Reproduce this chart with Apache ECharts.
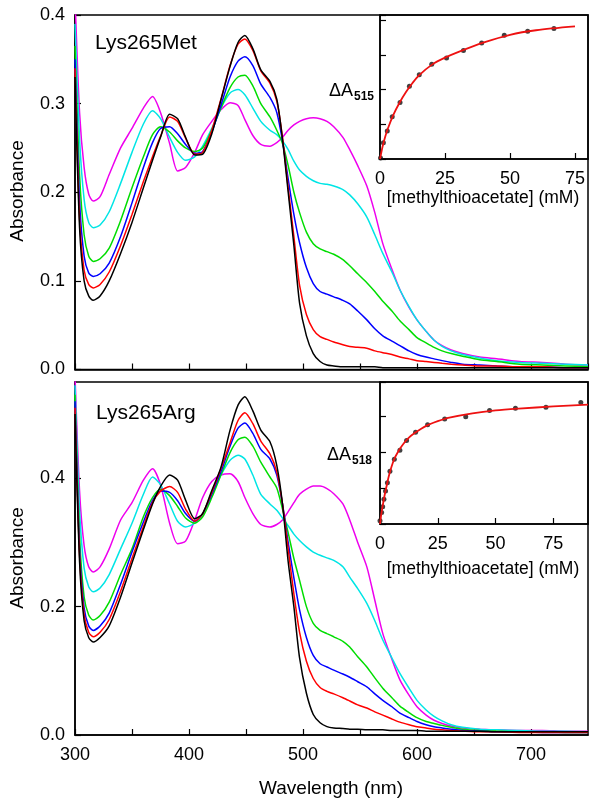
<!DOCTYPE html>
<html><head><meta charset="utf-8">
<script src="https://cdn.jsdelivr.net/npm/echarts@6/dist/echarts.min.js"></script>
<style>html,body{margin:0;padding:0;background:#fff}#c{width:603px;height:806px}</style>
</head><body><div id="c"></div>
<script>
// Wavelength grid (nm)
const W = [300,304,308,312,316, 322,330,340,350,360, 368,375,383,390,397, 405,412,420,428,436,
  443,449,456,463,471, 477,482,487,492,497, 503,509,515,521,527, 535,541,548,556,563,
  570,578,585,593,600, 608,615,622,630,640, 655,670,690,710,730, 750];

// Top panel: Lys265Met
const K1 = [0.33,0.16,0.1,0.083,0.078, 0.083,0.100,0.131,0.166,0.205, 0.236,0.262,0.288,0.283,0.262,
  0.242,0.243,0.266,0.304,0.342, 0.369,0.377,0.362,0.338,0.325, 0.305,0.26,0.20,0.14,0.075,
  0.038,0.018,0.009,0.005,0.004, 0.003,0.003,0.003,0.003,0.003, 0.002,0.002,0.002,0.002,0.002,
  0.002,0.002,0.002,0.002,0.002, 0.002,0.002,0.002,0.002,0.002, 0.002];
const R1 = [0.34,0.17,0.112,0.096,0.092, 0.096,0.11,0.14,0.175,0.212, 0.24,0.263,0.285,0.28,0.261,
  0.243,0.245,0.27,0.305,0.343, 0.367,0.373,0.36,0.337,0.323, 0.303,0.262,0.205,0.15,0.095,
  0.062,0.045,0.037,0.034,0.031, 0.028,0.026,0.025,0.024,0.021, 0.019,0.017,0.014,0.012,0.01,
  0.009,0.008,0.007,0.006,0.005, 0.004,0.004,0.003,0.003,0.002, 0.002];
const B1 = [0.35,0.19,0.128,0.109,0.105, 0.108,0.12,0.15,0.188,0.228, 0.256,0.272,0.274,0.266,0.254,
  0.244,0.246,0.268,0.298,0.33, 0.348,0.353,0.343,0.322,0.307, 0.29,0.258,0.215,0.175,0.143,
  0.115,0.097,0.088,0.085,0.082, 0.078,0.074,0.066,0.056,0.046, 0.038,0.032,0.027,0.021,0.017,
  0.014,0.012,0.01,0.008,0.006, 0.005,0.004,0.003,0.003,0.002, 0.002];
const G1 = [0.365,0.22,0.152,0.128,0.122, 0.125,0.137,0.168,0.205,0.24, 0.265,0.274,0.268,0.258,0.25,
  0.246,0.25,0.27,0.295,0.318, 0.33,0.332,0.32,0.3,0.285, 0.27,0.255,0.23,0.2,0.177,
  0.155,0.142,0.136,0.133,0.13, 0.124,0.117,0.108,0.098,0.088, 0.077,0.066,0.055,0.045,0.036,
  0.03,0.025,0.021,0.018,0.015, 0.011,0.009,0.006,0.005,0.004, 0.003];
const C1 = [0.39,0.26,0.192,0.166,0.16, 0.163,0.178,0.21,0.245,0.277, 0.292,0.283,0.262,0.245,0.236,
  0.24,0.252,0.272,0.295,0.312, 0.316,0.31,0.295,0.28,0.27, 0.265,0.258,0.248,0.235,0.225,
  0.218,0.213,0.21,0.209,0.207, 0.203,0.197,0.187,0.172,0.152, 0.131,0.11,0.09,0.071,0.056,
  0.043,0.033,0.026,0.021,0.017, 0.013,0.01,0.008,0.007,0.006, 0.005];
const M1 = [0.42,0.29,0.228,0.198,0.19, 0.195,0.22,0.25,0.272,0.295, 0.308,0.29,0.255,0.224,0.228,
  0.245,0.265,0.28,0.293,0.301, 0.298,0.282,0.264,0.254,0.252, 0.256,0.262,0.27,0.276,0.28,
  0.283,0.284,0.283,0.28,0.274, 0.262,0.248,0.23,0.207,0.177, 0.142,0.113,0.09,0.07,0.056,
  0.043,0.033,0.027,0.022,0.018, 0.014,0.012,0.009,0.008,0.006, 0.005];

// Bottom panel: Lys265Arg
const K2 = [0.50,0.27,0.178,0.152,0.145, 0.152,0.17,0.215,0.268,0.32, 0.36,0.387,0.405,0.397,0.366,
  0.337,0.345,0.381,0.417,0.475, 0.514,0.527,0.505,0.475,0.457, 0.42,0.36,0.27,0.2,0.12,
  0.065,0.032,0.019,0.013,0.011, 0.01,0.009,0.009,0.008,0.008, 0.008,0.007,0.007,0.007,0.007,
  0.006,0.006,0.006,0.006,0.006, 0.006,0.005,0.005,0.005,0.005, 0.005];
const R2 = [0.51,0.28,0.188,0.16,0.153, 0.16,0.18,0.224,0.275,0.325, 0.362,0.38,0.387,0.378,0.352,
  0.333,0.345,0.378,0.415,0.455, 0.49,0.502,0.485,0.458,0.438, 0.41,0.36,0.29,0.22,0.16,
  0.115,0.088,0.074,0.068,0.064, 0.058,0.053,0.047,0.042,0.036, 0.031,0.025,0.02,0.016,0.013,
  0.011,0.009,0.008,0.007,0.006, 0.005,0.005,0.004,0.004,0.004, 0.004];
const B2 = [0.52,0.29,0.198,0.17,0.163, 0.17,0.19,0.235,0.285,0.332, 0.365,0.38,0.378,0.365,0.345,
  0.333,0.345,0.375,0.41,0.45, 0.478,0.486,0.47,0.445,0.43, 0.405,0.36,0.3,0.245,0.195,
  0.152,0.124,0.111,0.106,0.101, 0.095,0.09,0.083,0.075,0.064, 0.054,0.044,0.034,0.027,0.021,
  0.016,0.013,0.011,0.009,0.007, 0.006,0.005,0.005,0.004,0.004, 0.004];
const G2 = [0.53,0.31,0.215,0.187,0.179, 0.186,0.207,0.25,0.29,0.34, 0.37,0.383,0.373,0.356,0.338,
  0.33,0.34,0.37,0.405,0.44, 0.46,0.464,0.45,0.425,0.402, 0.385,0.352,0.315,0.275,0.241,
  0.2,0.174,0.163,0.158,0.153, 0.146,0.137,0.122,0.106,0.089, 0.073,0.058,0.045,0.035,0.027,
  0.021,0.018,0.015,0.012,0.009, 0.007,0.006,0.005,0.005,0.004, 0.004];
const C2 = [0.545,0.35,0.26,0.231,0.223, 0.229,0.25,0.29,0.33,0.375, 0.402,0.39,0.36,0.333,0.324,
  0.33,0.345,0.375,0.405,0.428, 0.436,0.43,0.405,0.375,0.36, 0.35,0.338,0.326,0.313,0.303,
  0.293,0.285,0.28,0.276,0.272, 0.262,0.246,0.228,0.205,0.178, 0.148,0.12,0.096,0.073,0.054,
  0.039,0.029,0.022,0.016,0.012, 0.009,0.008,0.007,0.006,0.006, 0.005];
const M2 = [0.56,0.38,0.295,0.262,0.254, 0.262,0.29,0.335,0.362,0.397, 0.415,0.39,0.33,0.298,0.302,
  0.335,0.37,0.395,0.405,0.407, 0.395,0.37,0.345,0.328,0.324, 0.328,0.335,0.348,0.362,0.375,
  0.383,0.388,0.388,0.384,0.376, 0.36,0.335,0.3,0.262,0.21, 0.158,0.118,0.086,0.062,0.044,
  0.031,0.023,0.018,0.014,0.011, 0.009,0.008,0.007,0.007,0.006, 0.006];

// Inset (top): dA515 vs [methylthioacetate]
const inTopX = [0.2,1.3,2.8,4.7,7.7,11.3,15.1,19.9,25.6,32.1,39.1,47.8,56.8,66.9];
const inTopY = [0.03,0.47,0.81,1.22,1.63,2.10,2.43,2.73,2.91,3.13,3.34,3.57,3.68,3.76];
const fitTopX = [0,1,2,3,5,7.5,10,12.5,15,20,25,30,40,50,60,75];
const fitTopY = [0,0.36,0.64,0.87,1.25,1.62,1.93,2.19,2.41,2.72,2.92,3.08,3.36,3.58,3.71,3.82];
// Inset (bottom): dA518
const inBotX = [0,0.7,1.15,1.7,2.4,3.2,4.3,6.2,8.6,11.5,15.4,20.6,28.0,37.1,47.4,58.6,71.8,86.9];
const inBotY = [0.09,0.32,0.48,0.69,0.92,1.15,1.47,1.80,2.05,2.32,2.55,2.76,2.92,2.98,3.16,3.22,3.25,3.38];
const fitBotX = [0,0.5,1,2,3,4,6,8,10,12.5,15,20,25,30,40,50,60,75,90];
const fitBotY = [0,0.25,0.45,0.8,1.1,1.38,1.78,2.03,2.22,2.4,2.53,2.73,2.86,2.96,3.08,3.16,3.21,3.27,3.32];

const FONT = '"Liberation Sans", Arial, Helvetica, sans-serif';
const colors = {K:'#000000', R:'#ff0000', B:'#0000ff', G:'#00dd00', C:'#00e5e5', M:'#ee00ee'};

function pairs(x, y){ return x.map((v,i)=>[v, y[i]]); }
function spec(idx, vals, col){
  return {type:'line', xAxisIndex:idx, yAxisIndex:idx, data:pairs(W, vals), showSymbol:false, symbol:'none',
    smooth:0.25, clip:true, lineStyle:{color:col, width:1.5}, animation:false, silent:true};
}
const axLine = {show:true, onZero:false, lineStyle:{color:'#000', width:1.5}};
const axTick = {show:true, inside:true, length:6, lineStyle:{color:'#000', width:1.2}};
const lbl = {color:'#000', fontSize:18, fontFamily:FONT};

const chart = echarts.init(document.getElementById('c'), null, {renderer:'canvas'});
chart.setOption({
  animation:false,
  backgroundColor:'#fff',
  grid:[
    {left:75, top:15, width:513, height:354.5, show:true, borderColor:'#000', borderWidth:1.5, backgroundColor:'transparent'},
    {left:75, top:382, width:513, height:353, show:true, borderColor:'#000', borderWidth:1.5, backgroundColor:'transparent'},
    {left:380, top:15, width:208, height:144, show:true, borderColor:'#000', borderWidth:1.5, backgroundColor:'transparent'},
    {left:380, top:382, width:208, height:142, show:true, borderColor:'#000', borderWidth:1.5, backgroundColor:'transparent'}
  ],
  xAxis:[
    {type:'value', gridIndex:0, min:300, max:750, interval:50, axisLine:axLine, axisTick:axTick, splitLine:{show:false}, axisLabel:{show:false}},
    {type:'value', gridIndex:1, min:300, max:750, interval:50, axisLine:axLine, axisTick:axTick, splitLine:{show:false},
      axisLabel:Object.assign({margin:11, showMaxLabel:false, formatter:v=> (v%100===0? String(v):'')}, lbl)},
    {type:'value', gridIndex:2, min:0, max:80, interval:25, axisLine:axLine, axisTick:axTick, splitLine:{show:false},
      axisLabel:Object.assign({margin:11, showMaxLabel:false}, lbl)},
    {type:'value', gridIndex:3, min:0, max:90, interval:25, axisLine:axLine, axisTick:axTick, splitLine:{show:false},
      axisLabel:Object.assign({margin:11, showMaxLabel:false}, lbl)}
  ],
  yAxis:[
    {type:'value', gridIndex:0, min:0, max:0.4, interval:0.1, axisLine:axLine, axisTick:axTick, splitLine:{show:false},
      axisLabel:Object.assign({margin:10, formatter:v=>v.toFixed(1)}, lbl)},
    {type:'value', gridIndex:1, min:0, max:0.55, interval:0.2, axisLine:axLine, axisTick:axTick, splitLine:{show:false},
      axisLabel:Object.assign({margin:10, showMaxLabel:false, formatter:v=>v.toFixed(1)}, lbl)},
    {type:'value', gridIndex:2, min:0, max:4.15, interval:1, axisLine:axLine, axisTick:axTick, splitLine:{show:false}, axisLabel:{show:false}},
    {type:'value', gridIndex:3, min:0, max:3.95, interval:1, axisLine:axLine, axisTick:axTick, splitLine:{show:false}, axisLabel:{show:false}}
  ],
  series:[
    spec(0,M1,colors.M), spec(0,C1,colors.C), spec(0,G1,colors.G), spec(0,B1,colors.B), spec(0,R1,colors.R), spec(0,K1,colors.K),
    spec(1,M2,colors.M), spec(1,C2,colors.C), spec(1,G2,colors.G), spec(1,B2,colors.B), spec(1,R2,colors.R), spec(1,K2,colors.K),
    {type:'line', xAxisIndex:2, yAxisIndex:2, data:pairs(fitTopX, fitTopY), showSymbol:false, symbol:'none', smooth:0.3,
      lineStyle:{color:'#ee1111', width:1.8}, silent:true},
    {type:'scatter', xAxisIndex:2, yAxisIndex:2, data:pairs(inTopX, inTopY), symbolSize:5, itemStyle:{color:'#111'}, silent:true},
    {type:'line', xAxisIndex:3, yAxisIndex:3, data:pairs(fitBotX, fitBotY), showSymbol:false, symbol:'none', smooth:0.3,
      lineStyle:{color:'#ee1111', width:1.8}, silent:true},
    {type:'scatter', xAxisIndex:3, yAxisIndex:3, data:pairs(inBotX, inBotY), symbolSize:5, itemStyle:{color:'#111'}, silent:true}
  ],
  graphic:[
    {type:'text', x:18, y:191, rotation:Math.PI/2, style:{text:'Absorbance', fontSize:19, fontFamily:FONT, fill:'#000', align:'center', verticalAlign:'middle'}},
    {type:'text', x:18, y:558, rotation:Math.PI/2, style:{text:'Absorbance', fontSize:19, fontFamily:FONT, fill:'#000', align:'center', verticalAlign:'middle'}},
    {type:'text', x:331, y:789, style:{text:'Wavelength (nm)', fontSize:19, fontFamily:FONT, fill:'#000', align:'center', verticalAlign:'middle'}},
    {type:'text', x:95, y:43, style:{text:'Lys265Met', fontSize:21, fontFamily:FONT, fill:'#000', align:'left', verticalAlign:'middle'}},
    {type:'text', x:96, y:413, style:{text:'Lys265Arg', fontSize:21, fontFamily:FONT, fill:'#000', align:'left', verticalAlign:'middle'}},
    {type:'text', x:353, y:91, style:{text:'\u0394A', fontSize:18, fontFamily:FONT, fill:'#000', align:'right', verticalAlign:'middle'}},
    {type:'text', x:354, y:97, style:{text:'515', fontSize:12, fontWeight:'bold', fontFamily:FONT, fill:'#000', align:'left', verticalAlign:'middle'}},
    {type:'text', x:351, y:455, style:{text:'\u0394A', fontSize:18, fontFamily:FONT, fill:'#000', align:'right', verticalAlign:'middle'}},
    {type:'text', x:352, y:461, style:{text:'518', fontSize:12, fontWeight:'bold', fontFamily:FONT, fill:'#000', align:'left', verticalAlign:'middle'}},
    {type:'text', x:483, y:198, style:{text:'[methylthioacetate] (mM)', fontSize:17.5, fontFamily:FONT, fill:'#000', align:'center', verticalAlign:'middle'}},
    {type:'text', x:483, y:569, style:{text:'[methylthioacetate] (mM)', fontSize:17.5, fontFamily:FONT, fill:'#000', align:'center', verticalAlign:'middle'}}
  ]
});
</script></body></html>
